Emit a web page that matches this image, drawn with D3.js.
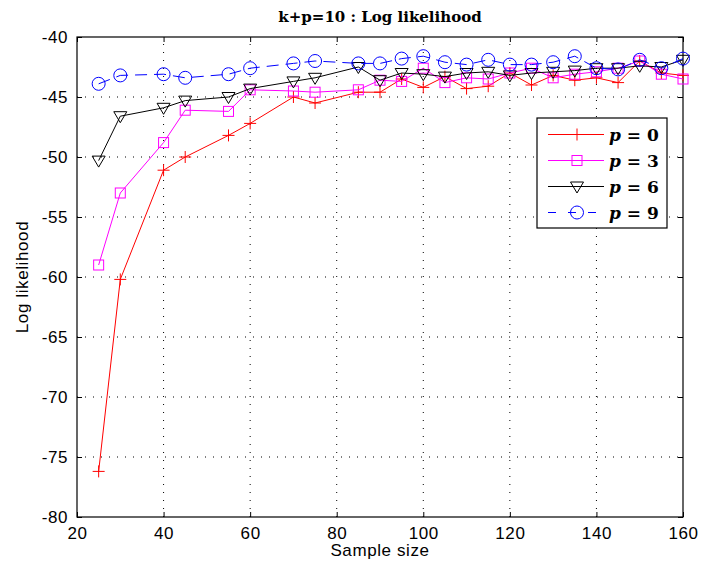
<!DOCTYPE html>
<html>
<head>
<meta charset="utf-8">
<script src="https://cdn.jsdelivr.net/npm/d3@7/dist/d3.min.js"></script>
<style>
  body { margin: 0; background: #fff; }
  svg { display: block; }
  .tick text { font-family: "Liberation Sans", Arial, sans-serif; font-size: 17px; letter-spacing: 0.6px; fill: #000; }
</style>
</head>
<body>
<div id="chart"></div>
<script>
// sample sizes along x
const sampleSizes = [25, 30, 40, 45, 55, 60, 70, 75, 85, 90, 95, 100, 105, 110, 115, 120, 125, 130, 135, 140, 145, 150, 155, 160];

// log likelihood per p
const p0 = [-76.2, -60.2, -51.1, -50.0, -48.2, -47.2, -45.0, -45.5, -44.6, -44.6, -43.5, -44.2, -43.3, -44.3, -44.1, -43.0, -44.0, -43.2, -43.6, -43.4, -43.8, -42.0, -43.0, -43.2];
const p3 = [-59.0, -53.0, -48.8, -46.1, -46.2, -44.4, -44.5, -44.6, -44.4, -43.6, -43.7, -42.6, -43.8, -43.4, -43.5, -43.0, -42.6, -43.4, -43.1, -42.9, -42.6, -42.0, -43.1, -43.5];
const p6 = [-50.3, -46.6, -45.9, -45.3, -45.0, -44.3, -43.7, -43.4, -42.5, -43.6, -43.0, -43.1, -43.3, -43.0, -42.9, -43.2, -43.0, -42.9, -42.8, -42.6, -42.6, -42.4, -42.5, -41.9];
const p9 = [-43.9, -43.2, -43.1, -43.4, -43.1, -42.6, -42.2, -42.0, -42.2, -42.2, -41.8, -41.6, -42.1, -42.3, -41.9, -42.3, -42.3, -42.1, -41.6, -42.6, -42.7, -41.9, -42.6, -41.8];

const xTicks = [20, 40, 60, 80, 100, 120, 140, 160];
const yTicks = [-80, -75, -70, -65, -60, -55, -50, -45, -40];

const seriesNames = ["0", "3", "6", "9"];

const W = 703, H = 567;
const pLeft = 77, pRight = 683, pTop = 37, pBottom = 517;

const svg = d3.select("#chart").append("svg")
  .attr("width", W)
  .attr("height", H);

const x = d3.scaleLinear().domain([20, 160]).range([pLeft, pRight]);
const y = d3.scaleLinear().domain([-80, -40]).range([pBottom, pTop]);

// grid
const grid = svg.append("g");
grid.selectAll("line.gx")
  .data(xTicks.slice(1, -1))
  .enter().append("line")
  .attr("x1", d => x(d)).attr("x2", d => x(d))
  .attr("y1", pBottom).attr("y2", pTop)
  .attr("stroke", "#000").attr("stroke-width", 1)
  .attr("stroke-dasharray", "1,7");
grid.selectAll("line.gy")
  .data(yTicks.slice(1, -1))
  .enter().append("line")
  .attr("x1", pLeft).attr("x2", pRight)
  .attr("y1", d => y(d)).attr("y2", d => y(d))
  .attr("stroke", "#000").attr("stroke-width", 1)
  .attr("stroke-dasharray", "1,7");

// axes (plain hyphen minus like the original)
const fmt = d => String(d);
const xAxis = d3.axisBottom(x).tickValues(xTicks).tickSizeInner(-5).tickSizeOuter(0).tickPadding(10).tickFormat(fmt);
const yAxis = d3.axisLeft(y).tickValues(yTicks).tickSizeInner(-5).tickSizeOuter(0).tickPadding(9).tickFormat(fmt);

svg.append("g").attr("transform", "translate(0," + pBottom + ")").call(xAxis)
  .call(g => g.select(".domain").remove());
svg.append("g").attr("transform", "translate(" + pLeft + ",0)").call(yAxis)
  .call(g => g.select(".domain").remove());
// top/right ticks
svg.append("g").attr("transform", "translate(0," + pTop + ")")
  .call(d3.axisTop(x).tickValues(xTicks).tickSizeInner(-5).tickSizeOuter(0).tickFormat(""))
  .call(g => g.select(".domain").remove());
svg.append("g").attr("transform", "translate(" + pRight + ",0)")
  .call(d3.axisRight(y).tickValues(yTicks).tickSizeInner(-5).tickSizeOuter(0).tickFormat(""))
  .call(g => g.select(".domain").remove());

svg.selectAll(".tick line").attr("stroke", "#000");

svg.append("rect")
  .attr("x", pLeft).attr("y", pTop)
  .attr("width", pRight - pLeft).attr("height", pBottom - pTop)
  .attr("fill", "none").attr("stroke", "#000").attr("stroke-width", 1.2);

// series
const series = [
  { name: seriesNames[0], values: p0, color: "#ff0000", marker: "plus", dash: null },
  { name: seriesNames[1], values: p3, color: "#ff00ff", marker: "square", dash: null },
  { name: seriesNames[2], values: p6, color: "#000000", marker: "tri", dash: null },
  { name: seriesNames[3], values: p9, color: "#0000ff", marker: "circle", dash: "12,7" }
];

function drawMarker(g, type, cx, cy, color) {
  if (type === "plus") {
    g.append("path").attr("d", `M${cx - 6},${cy}H${cx + 6}M${cx},${cy - 6}V${cy + 6}`)
      .attr("stroke", color).attr("stroke-width", 1).attr("fill", "none");
  } else if (type === "square") {
    g.append("rect").attr("x", cx - 5).attr("y", cy - 5).attr("width", 10).attr("height", 10)
      .attr("stroke", color).attr("stroke-width", 1).attr("fill", "none");
  } else if (type === "tri") {
    g.append("path").attr("d", `M${cx - 6.5},${cy - 4.5}L${cx + 6.5},${cy - 4.5}L${cx},${cy + 6.5}Z`)
      .attr("stroke", color).attr("stroke-width", 1).attr("fill", "none");
  } else {
    g.append("circle").attr("cx", cx).attr("cy", cy).attr("r", 6.5)
      .attr("stroke", color).attr("stroke-width", 1).attr("fill", "none");
  }
}

const line = d3.line().x((d, i) => x(sampleSizes[i])).y(d => y(d));

series.forEach(s => {
  const g = svg.append("g");
  g.append("path")
    .attr("d", line(s.values))
    .attr("fill", "none")
    .attr("stroke", s.color)
    .attr("stroke-width", 1)
    .attr("stroke-dasharray", s.dash);
  s.values.forEach((v, i) => drawMarker(g, s.marker, x(sampleSizes[i]), y(v), s.color));
});

// legend
const legend = svg.append("g");
legend.append("rect")
  .attr("x", 537).attr("y", 118).attr("width", 130).attr("height", 110)
  .attr("fill", "#fff").attr("stroke", "#000").attr("stroke-width", 1.2);
series.forEach((s, i) => {
  const ly = 134.5 + i * 26;
  legend.append("line")
    .attr("x1", 548).attr("x2", 604).attr("y1", ly).attr("y2", ly)
    .attr("stroke", s.color).attr("stroke-width", 1)
    .attr("stroke-dasharray", s.dash ? "8,12" : null);
  drawMarker(legend, s.marker, 577, ly, s.color);
  const t = legend.append("text")
    .attr("x", 609).attr("y", ly + 6)
    .attr("font-family", "'DejaVu Serif', 'Liberation Serif', serif")
    .attr("font-size", 17).attr("font-weight", "bold");
  t.append("tspan").attr("font-style", "italic").text("p");
  t.append("tspan").text(" = " + s.name);
});

// titles
svg.append("text")
  .attr("x", 380).attr("y", 22)
  .attr("text-anchor", "middle")
  .attr("font-family", "'DejaVu Serif', 'Liberation Serif', serif")
  .attr("font-weight", "bold")
  .attr("font-size", 15)
  .text("k+p=10 : Log likelihood");

svg.append("text")
  .attr("x", 380).attr("y", 556)
  .attr("text-anchor", "middle")
  .attr("font-family", "'Liberation Sans', Arial, sans-serif")
  .attr("font-size", 17).attr("letter-spacing", 0.6)
  .text("Sample size");

svg.append("text")
  .attr("transform", "translate(28,277) rotate(-90)")
  .attr("text-anchor", "middle")
  .attr("font-family", "'Liberation Sans', Arial, sans-serif")
  .attr("font-size", 17).attr("letter-spacing", 0.6)
  .text("Log likelihood");
</script>
</body>
</html>
